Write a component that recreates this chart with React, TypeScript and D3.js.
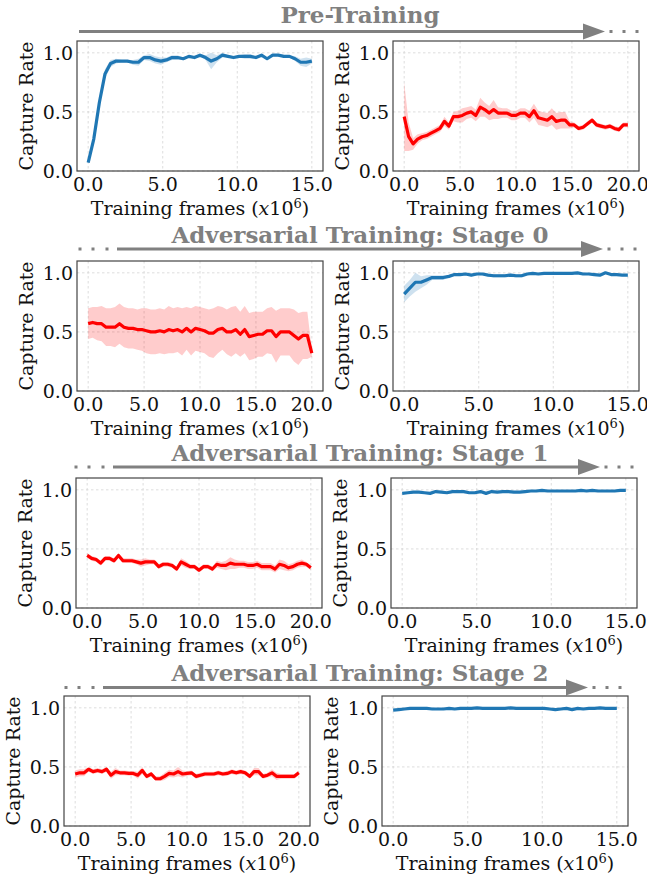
import React, { useEffect, useRef } from 'react';
import * as d3 from 'd3';

// x ticks
const blueTicks = [0, 5, 10, 15];
const redTicks = [0, 5, 10, 15, 20];
const yTicks = [0, 0.5, 1.0];
const blueStep = 0.375; // 41 points over 15 x10^6 frames
const redStep = 0.4; // 51 points over 20 x10^6 frames

const stageTitles = [
  'Pre-Training',
  'Adversarial Training: Stage 0',
  'Adversarial Training: Stage 1',
  'Adversarial Training: Stage 2',
];

// pre-training
const preBlueMean = [0.07, 0.27, 0.58, 0.82, 0.91, 0.93, 0.93, 0.93, 0.92, 0.92, 0.96, 0.96, 0.94, 0.93, 0.94, 0.96, 0.96, 0.95, 0.97, 0.96, 0.98, 0.96, 0.93, 0.95, 0.98, 0.97, 0.96, 0.97, 0.97, 0.97, 0.96, 0.98, 0.95, 0.98, 0.98, 0.97, 0.97, 0.95, 0.92, 0.92, 0.93];
const preBlueStd = [0.01, 0.02, 0.03, 0.04, 0.03, 0.02, 0.01, 0.01, 0.02, 0.03, 0.02, 0.03, 0.03, 0.03, 0.02, 0.02, 0.02, 0.01, 0.01, 0.01, 0.01, 0.02, 0.07, 0.03, 0.02, 0.01, 0.01, 0.01, 0.02, 0.02, 0.01, 0.01, 0.01, 0.01, 0.01, 0.01, 0.01, 0.02, 0.03, 0.04, 0.02];
const preRedMean = [0.46, 0.29, 0.23, 0.27, 0.29, 0.30, 0.32, 0.34, 0.36, 0.42, 0.38, 0.46, 0.46, 0.47, 0.49, 0.50, 0.47, 0.54, 0.52, 0.49, 0.52, 0.49, 0.49, 0.49, 0.47, 0.47, 0.49, 0.49, 0.46, 0.51, 0.45, 0.44, 0.43, 0.46, 0.42, 0.43, 0.43, 0.39, 0.39, 0.36, 0.37, 0.40, 0.43, 0.39, 0.38, 0.37, 0.38, 0.36, 0.35, 0.39, 0.39];
const preRedStd = [0.29, 0.12, 0.05, 0.04, 0.03, 0.03, 0.03, 0.03, 0.03, 0.04, 0.03, 0.04, 0.05, 0.06, 0.05, 0.05, 0.05, 0.08, 0.06, 0.06, 0.08, 0.05, 0.04, 0.04, 0.04, 0.04, 0.04, 0.04, 0.05, 0.06, 0.06, 0.06, 0.06, 0.07, 0.07, 0.07, 0.07, 0.03, 0.02, 0.02, 0.02, 0.02, 0.02, 0.02, 0.02, 0.02, 0.02, 0.02, 0.02, 0.02, 0.02];

// stage 0
const s0RedMean = [0.57, 0.58, 0.57, 0.57, 0.54, 0.54, 0.54, 0.57, 0.54, 0.53, 0.53, 0.52, 0.52, 0.51, 0.50, 0.50, 0.51, 0.50, 0.52, 0.51, 0.52, 0.50, 0.53, 0.50, 0.53, 0.52, 0.51, 0.49, 0.49, 0.52, 0.53, 0.50, 0.50, 0.52, 0.48, 0.52, 0.46, 0.47, 0.48, 0.48, 0.51, 0.51, 0.46, 0.50, 0.50, 0.50, 0.47, 0.44, 0.47, 0.47, 0.32];
const s0RedStd = [0.13, 0.13, 0.14, 0.15, 0.16, 0.16, 0.17, 0.17, 0.17, 0.17, 0.17, 0.17, 0.18, 0.19, 0.19, 0.19, 0.19, 0.19, 0.20, 0.19, 0.19, 0.20, 0.18, 0.20, 0.19, 0.19, 0.19, 0.20, 0.21, 0.20, 0.18, 0.19, 0.21, 0.20, 0.19, 0.20, 0.20, 0.20, 0.19, 0.19, 0.19, 0.20, 0.22, 0.20, 0.20, 0.20, 0.22, 0.22, 0.20, 0.20, 0.03];
const s0BlueMean = [0.82, 0.87, 0.92, 0.92, 0.94, 0.96, 0.96, 0.96, 0.97, 0.985, 0.985, 0.99, 0.98, 0.99, 0.99, 0.98, 0.975, 0.975, 0.975, 0.98, 0.975, 0.975, 0.99, 0.995, 0.99, 0.995, 0.995, 0.995, 0.995, 0.995, 0.995, 1.0, 0.99, 0.99, 0.985, 0.98, 1.0, 0.985, 0.985, 0.98, 0.98];
const s0BlueStd = [0.07, 0.07, 0.08, 0.05, 0.04, 0.02, 0.02, 0.02, 0.01, 0.01, 0.01, 0.01, 0.01, 0.01, 0.01, 0.01, 0.015, 0.015, 0.015, 0.015, 0.015, 0.015, 0.01, 0.005, 0.005, 0.005, 0.005, 0.005, 0.005, 0.005, 0.005, 0.005, 0.005, 0.005, 0.005, 0.005, 0.005, 0.005, 0.005, 0.005, 0.005];

// stage 1
const s1RedMean = [0.445, 0.42, 0.41, 0.38, 0.42, 0.42, 0.40, 0.445, 0.40, 0.40, 0.40, 0.39, 0.38, 0.39, 0.39, 0.39, 0.35, 0.37, 0.37, 0.36, 0.33, 0.39, 0.37, 0.35, 0.35, 0.32, 0.35, 0.35, 0.33, 0.37, 0.36, 0.36, 0.38, 0.37, 0.37, 0.37, 0.36, 0.36, 0.37, 0.35, 0.35, 0.35, 0.33, 0.37, 0.36, 0.34, 0.35, 0.37, 0.38, 0.37, 0.34];
const s1RedStd = [0.02, 0.02, 0.02, 0.02, 0.02, 0.02, 0.02, 0.02, 0.02, 0.02, 0.02, 0.02, 0.03, 0.03, 0.02, 0.02, 0.02, 0.02, 0.02, 0.02, 0.02, 0.03, 0.03, 0.02, 0.02, 0.02, 0.02, 0.02, 0.02, 0.03, 0.03, 0.04, 0.05, 0.04, 0.03, 0.03, 0.03, 0.03, 0.03, 0.03, 0.03, 0.03, 0.03, 0.04, 0.04, 0.03, 0.03, 0.03, 0.03, 0.02, 0.02];
const s1BlueMean = [0.97, 0.975, 0.98, 0.98, 0.975, 0.97, 0.985, 0.98, 0.975, 0.985, 0.985, 0.985, 0.975, 0.975, 0.985, 0.97, 0.985, 0.98, 0.985, 0.985, 0.98, 0.98, 0.985, 0.99, 0.99, 0.995, 0.99, 0.99, 0.99, 0.99, 0.99, 0.99, 0.995, 0.99, 0.995, 0.99, 0.99, 0.99, 0.99, 0.995, 0.995];
const s1BlueStd = d3.range(41).map(() => 0.006);

// stage 2
const s2RedMean = [0.44, 0.45, 0.45, 0.48, 0.46, 0.47, 0.46, 0.48, 0.43, 0.46, 0.45, 0.45, 0.445, 0.445, 0.43, 0.47, 0.42, 0.44, 0.40, 0.40, 0.42, 0.445, 0.44, 0.46, 0.44, 0.445, 0.45, 0.42, 0.43, 0.44, 0.44, 0.44, 0.45, 0.44, 0.445, 0.46, 0.45, 0.46, 0.45, 0.42, 0.46, 0.46, 0.42, 0.43, 0.45, 0.42, 0.42, 0.42, 0.42, 0.42, 0.45];
const s2RedStd = [0.03, 0.03, 0.03, 0.02, 0.02, 0.02, 0.02, 0.02, 0.03, 0.03, 0.02, 0.02, 0.02, 0.02, 0.03, 0.03, 0.02, 0.02, 0.02, 0.02, 0.03, 0.03, 0.03, 0.04, 0.03, 0.02, 0.02, 0.02, 0.02, 0.02, 0.02, 0.02, 0.02, 0.02, 0.02, 0.02, 0.02, 0.02, 0.02, 0.02, 0.03, 0.03, 0.02, 0.02, 0.03, 0.03, 0.02, 0.02, 0.02, 0.02, 0.02];
const s2BlueMean = [0.98, 0.985, 0.99, 0.995, 0.995, 0.995, 0.995, 0.99, 0.99, 0.99, 0.995, 0.99, 0.995, 0.995, 0.995, 1.0, 0.995, 0.995, 0.995, 0.995, 0.995, 1.0, 0.995, 0.995, 0.995, 0.995, 0.995, 0.995, 0.99, 0.985, 0.99, 0.995, 0.985, 0.995, 0.99, 0.995, 0.995, 1.0, 0.995, 0.995, 0.995];
const s2BlueStd = d3.range(41).map(() => 0.005);

const BLUE = '#1f77b4';
const RED = '#ff0000';
const FONT = '"DejaVu Serif", serif';

// panel layout: [left, top]
const panelW = 246;
const panelH = 130;
const panels = [
  { x: 77, y: 41, mean: preBlueMean, std: preBlueStd, kind: 'blue' },
  { x: 393, y: 41, mean: preRedMean, std: preRedStd, kind: 'red' },
  { x: 77, y: 261, mean: s0RedMean, std: s0RedStd, kind: 'red' },
  { x: 393, y: 261, mean: s0BlueMean, std: s0BlueStd, kind: 'blue' },
  { x: 76, y: 478, mean: s1RedMean, std: s1RedStd, kind: 'red' },
  { x: 391, y: 478, mean: s1BlueMean, std: s1BlueStd, kind: 'blue' },
  { x: 64, y: 696, mean: s2RedMean, std: s2RedStd, kind: 'red' },
  { x: 382, y: 696, mean: s2BlueMean, std: s2BlueStd, kind: 'blue' },
];

// header arrows
const headers = [
  { textY: 23, lineY: 31.5, start: 79, tip: 605, lead: false },
  { textY: 243, lineY: 249, start: 117, tip: 603, lead: true },
  { textY: 461, lineY: 467, start: 113, tip: 600, lead: true },
  { textY: 681, lineY: 687.5, start: 103, tip: 588, lead: true },
];

const App = () => {
  const svgRef = useRef(null);

  useEffect(() => {
    const svg = d3.select(svgRef.current);
    svg.selectAll('*').remove();

    // headers
    headers.forEach((h, i) => {
      const g = svg.append('g');
      const grey = '#808080';
      if (h.lead) {
        [-37, -24, -10].forEach(dx => {
          g.append('rect').attr('x', h.start + dx - 1.5).attr('y', h.lineY - 1.5)
            .attr('width', 3).attr('height', 3).attr('fill', grey);
        });
      }
      g.append('line')
        .attr('x1', h.start).attr('x2', h.tip - 20)
        .attr('y1', h.lineY).attr('y2', h.lineY)
        .attr('stroke', grey).attr('stroke-width', 3);
      g.append('path')
        .attr('d', `M${h.tip - 22},${h.lineY - 8} L${h.tip},${h.lineY} L${h.tip - 22},${h.lineY + 8} Z`)
        .attr('fill', grey);
      [6, 19, 32].forEach(dx => {
        g.append('rect').attr('x', h.tip + dx - 1.5).attr('y', h.lineY - 1.5)
          .attr('width', 3).attr('height', 3).attr('fill', grey);
      });
      g.append('text')
        .attr('x', 360).attr('y', h.textY)
        .attr('text-anchor', 'middle')
        .style('font-family', FONT)
        .style('font-weight', 'bold')
        .style('font-size', '23px')
        .style('fill', grey)
        .text(stageTitles[i]);
    });

    panels.forEach(p => {
      const isBlue = p.kind === 'blue';
      const step = isBlue ? blueStep : redStep;
      const xMax = isBlue ? 15 : 20;
      const ticks = isBlue ? blueTicks : redTicks;
      const color = isBlue ? BLUE : RED;
      const data = p.mean.map((m, i) => ({ f: i * step, m, s: p.std[i] }));

      const g = svg.append('g').attr('transform', `translate(${p.x},${p.y})`);

      const x = d3.scaleLinear()
        .domain([-xMax * 0.05, xMax * 1.05])
        .range([0, panelW]);
      const y = d3.scaleLinear()
        .domain([0, 1.1])
        .range([panelH, 0]);

      // grid
      g.selectAll('.gx').data(ticks).enter().append('line')
        .attr('x1', d => x(d)).attr('x2', d => x(d))
        .attr('y1', 0).attr('y2', panelH)
        .attr('stroke', '#d4d4d4').attr('stroke-width', 0.8)
        .attr('stroke-dasharray', '2.5,2.5');
      g.selectAll('.gy').data(yTicks).enter().append('line')
        .attr('x1', 0).attr('x2', panelW)
        .attr('y1', d => y(d)).attr('y2', d => y(d))
        .attr('stroke', '#d4d4d4').attr('stroke-width', 0.8)
        .attr('stroke-dasharray', '2.5,2.5');

      // std band
      const area = d3.area()
        .x(d => x(d.f))
        .y0(d => y(d.m - d.s))
        .y1(d => y(d.m + d.s));
      g.append('path')
        .datum(data)
        .attr('d', area)
        .attr('fill', color)
        .attr('fill-opacity', isBlue ? 0.22 : 0.2);

      const line = d3.line()
        .x(d => x(d.f))
        .y(d => y(d.m));
      g.append('path')
        .datum(data)
        .attr('d', line)
        .attr('fill', 'none')
        .attr('stroke', color)
        .attr('stroke-width', 3.2)
        .attr('stroke-linejoin', 'round');

      // frame
      g.append('rect')
        .attr('width', panelW).attr('height', panelH)
        .attr('fill', 'none')
        .attr('stroke', '#444')
        .attr('stroke-width', 1.2);

      // ticks labels
      g.selectAll('.xt').data(ticks).enter().append('text')
        .attr('x', d => x(d)).attr('y', panelH + 20)
        .attr('text-anchor', 'middle')
        .style('font-family', FONT).style('font-size', '19px').style('fill', '#111')
        .text(d => d3.format('.1f')(d));
      g.selectAll('.yt').data(yTicks).enter().append('text')
        .attr('x', -4).attr('y', d => y(d) + 7)
        .attr('text-anchor', 'end')
        .style('font-family', FONT).style('font-size', '19px').style('fill', '#111')
        .text(d => d3.format('.1f')(d));

      // axis labels
      const xl = g.append('text')
        .attr('x', panelW / 2).attr('y', panelH + 44)
        .attr('text-anchor', 'middle')
        .style('font-family', FONT).style('font-size', '19px').style('fill', '#111');
      xl.append('tspan').text('Training frames (');
      xl.append('tspan').style('font-style', 'italic').text('x');
      xl.append('tspan').text('10');
      xl.append('tspan').attr('dy', -7).style('font-size', '13px').text('6');
      xl.append('tspan').attr('dy', 7).text(')');

      g.append('text')
        .attr('transform', `translate(-44,${panelH / 2}) rotate(-90)`)
        .attr('text-anchor', 'middle')
        .style('font-family', FONT).style('font-size', '19px').style('fill', '#111')
        .text('Capture Rate');
    });
  }, []);

  return (
    <div style={{ position: 'absolute', left: 0, top: 0 }}>
      <svg ref={svgRef} width={647} height={877} style={{ display: 'block', background: '#fff' }} />
    </div>
  );
};

export default App;
